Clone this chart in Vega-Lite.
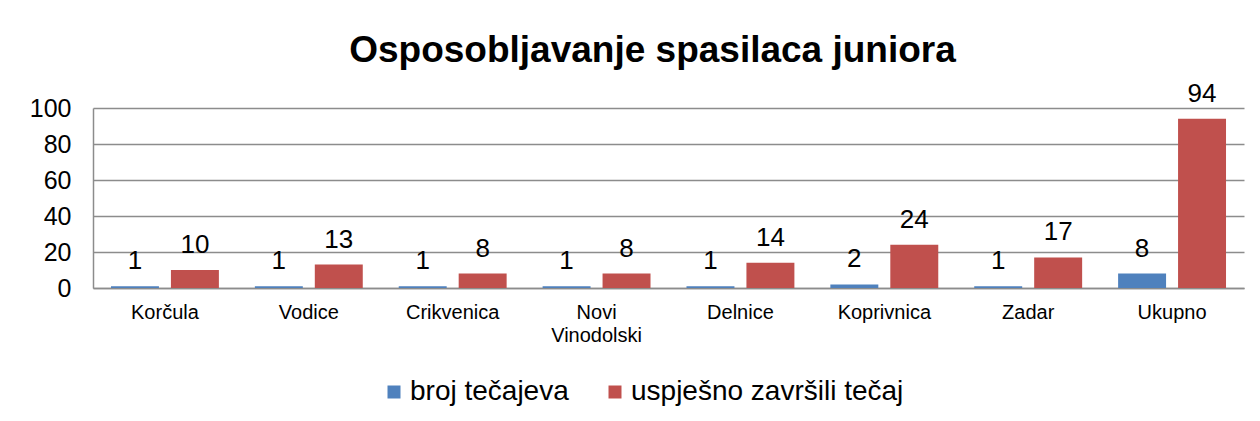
{
  "$schema": "https://vega.github.io/schema/vega-lite/v6.json",
  "autosize": {"type": "none"},
  "padding": {"left": 93, "top": 108, "right": 16, "bottom": 133},
  "width": 1151,
  "height": 180,
  "background": "white",
  "config": {
    "font": "Liberation Sans",
    "view": {"stroke": null}
  },
  "title": {
    "text": "Osposobljavanje spasilaca juniora",
    "font": "Liberation Sans",
    "fontSize": 37,
    "fontWeight": "bold",
    "color": "black",
    "anchor": "middle",
    "offset": 11,
    "dx": -16
  },
  "data": {
    "values": [
      {"grad": "Korčula", "serija": "broj tečajeva", "vrijednost": 1},
      {"grad": "Korčula", "serija": "uspješno završili tečaj", "vrijednost": 10},
      {"grad": "Vodice", "serija": "broj tečajeva", "vrijednost": 1},
      {"grad": "Vodice", "serija": "uspješno završili tečaj", "vrijednost": 13},
      {"grad": "Crikvenica", "serija": "broj tečajeva", "vrijednost": 1},
      {"grad": "Crikvenica", "serija": "uspješno završili tečaj", "vrijednost": 8},
      {"grad": "Novi Vinodolski", "serija": "broj tečajeva", "vrijednost": 1},
      {"grad": "Novi Vinodolski", "serija": "uspješno završili tečaj", "vrijednost": 8},
      {"grad": "Delnice", "serija": "broj tečajeva", "vrijednost": 1},
      {"grad": "Delnice", "serija": "uspješno završili tečaj", "vrijednost": 14},
      {"grad": "Koprivnica", "serija": "broj tečajeva", "vrijednost": 2},
      {"grad": "Koprivnica", "serija": "uspješno završili tečaj", "vrijednost": 24},
      {"grad": "Zadar", "serija": "broj tečajeva", "vrijednost": 1},
      {"grad": "Zadar", "serija": "uspješno završili tečaj", "vrijednost": 17},
      {"grad": "Ukupno", "serija": "broj tečajeva", "vrijednost": 8},
      {"grad": "Ukupno", "serija": "uspješno završili tečaj", "vrijednost": 94}
    ]
  },
  "encoding": {
    "x": {
      "field": "grad",
      "type": "nominal",
      "sort": null,
      "scale": {"paddingInner": 0, "paddingOuter": 0},
      "axis": {
        "title": null,
        "labelAngle": 0,
        "labelFontSize": 20,
        "labelColor": "black",
        "labelPadding": 14,
        "labelLineHeight": 23,
        "labelExpr": "datum.label == 'Novi Vinodolski' ? ['Novi', 'Vinodolski'] : datum.label",
        "ticks": false,
        "domainColor": "#8c8c8c",
        "domainWidth": 1.5
      }
    },
    "xOffset": {
      "field": "serija",
      "type": "nominal",
      "sort": ["broj tečajeva", "uspješno završili tečaj"],
      "scale": {"paddingInner": 0.2, "paddingOuter": 0.3}
    },
    "y": {
      "field": "vrijednost",
      "type": "quantitative",
      "scale": {"domain": [0, 100]},
      "axis": {
        "title": null,
        "values": [0, 20, 40, 60, 80, 100],
        "labelFontSize": 25,
        "labelColor": "black",
        "labelPadding": 22,
        "ticks": false,
        "domainColor": "#8c8c8c",
        "domainWidth": 1.5,
        "gridColor": "#8c8c8c",
        "gridWidth": 1.5
      }
    }
  },
  "layer": [
    {
      "mark": {"type": "bar"},
      "encoding": {
        "color": {
          "field": "serija",
          "type": "nominal",
          "sort": ["broj tečajeva", "uspješno završili tečaj"],
          "scale": {"domain": ["broj tečajeva", "uspješno završili tečaj"], "range": ["#4F81BD", "#C0504D"]},
          "legend": {
            "title": null,
            "orient": "none",
            "direction": "horizontal",
            "legendX": 287,
            "legendY": 270,
            "symbolType": "square",
            "symbolSize": 169,
            "symbolStrokeWidth": 0,
            "labelFontSize": 28,
            "labelColor": "black",
            "labelOffset": 2,
            "labelLimit": 500,
            "columnPadding": 32
          }
        }
      }
    },
    {
      "mark": {"type": "text", "baseline": "alphabetic", "dy": -17, "fontSize": 26, "color": "black", "font": "Liberation Sans"},
      "encoding": {
        "text": {"field": "vrijednost", "type": "quantitative"}
      }
    }
  ]
}
